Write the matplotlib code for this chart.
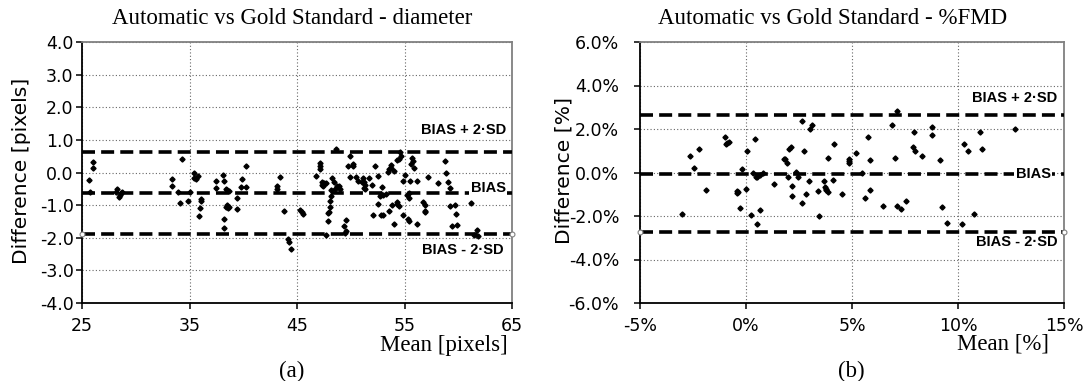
import matplotlib
matplotlib.use("Agg")
import matplotlib.pyplot as plt
import numpy as np
from matplotlib.ticker import FuncFormatter, MultipleLocator

# Bland-Altman data: diameter (pixels)
diam_mean = [26.05, 26.05, 25.65, 25.7,
             28.3, 28.2, 28.5, 28.6, 28.4, 28.7,
             34.3, 33.4, 33.4, 33.9, 34.1, 35.0, 34.9,
             35.4, 35.6, 35.4, 35.8,
             36.1, 36.1, 36.0, 35.9,
             37.5, 37.5, 38.1, 38.2, 38.2,
             38.2, 38.4, 38.5, 38.7, 39.4,
             38.5, 38.7, 38.4, 38.6, 39.4,
             40.3, 39.9, 39.8, 40.3,
             43.4, 43.1, 43.1, 43.8,
             44.2, 44.3, 44.4,
             45.3, 45.5, 45.6,
             47.1, 47.1, 47.1,
             46.8, 47.3, 47.3, 47.5, 47.4, 47.7,
             48.6, 49.7, 50.2, 49.9, 50.2,
             48.3, 48.4, 48.7, 48.5, 48.9, 49.0,
             48.2, 48.2, 48.1,
             48.1, 47.9, 48.0, 47.9,
             49.9, 50.5, 50.7, 51.2, 51.2,
             49.6, 49.4, 49.6, 49.5, 47.7,
             54.6, 54.7, 54.5, 55.7, 55.8, 55.6, 55.9,
             53.7, 53.6, 54.0, 53.5,
             52.3, 52.5,
             51.1, 51.7, 51.0, 51.3, 51.3,
             52.0, 52.9,
             52.8, 53.0, 52.7, 53.3,
             55.0, 54.9, 55.5, 56.2,
             55.2, 55.4, 55.4,
             57.2, 58.1, 59.0, 59.2,
             58.8, 58.9,
             52.5, 53.8, 54.3, 54.5, 54.3, 56.7, 56.9,
             52.1, 52.8, 53.0, 53.6, 54.9, 55.3, 55.4, 54.0, 56.2,
             56.9, 56.9, 59.2, 59.7, 59.8, 61.2,
             59.4, 59.9, 61.7, 61.5, 61.8,
             53.7, 54.3]
diam_diff = [0.32, 0.14, -0.22, -0.60,
             -0.50, -0.60, -0.70, -0.62, -0.75, -0.60,
             0.40, -0.20, -0.40, -0.60, -0.94, -0.60, -0.86,
             -0.03, -0.20, -0.18, -0.12,
             -0.81, -0.87, -1.10, -1.32,
             -0.27, -0.48, -0.09, -1.42, -1.71,
             -0.27, -0.50, -0.55, -0.58, -0.79,
             -1.00, -1.05, -1.05, -1.10, -1.13,
             0.19, -0.19, -0.45, -0.45,
             -0.13, -0.40, -0.50, -1.17,
             -2.05, -2.12, -2.34,
             -1.16, -1.22, -1.26,
             0.30, 0.11, 0.20,
             -0.10, -0.30, -0.38, -0.33, -0.40, -0.33,
             0.73, 0.19, 0.21, 0.52, 0.25,
             -0.17, -0.30, -0.40, -0.50, -0.42, -0.50,
             -0.55, -0.72, -0.86,
             -1.06, -1.25, -1.20, -1.50,
             -0.14, -0.14, -0.25, -0.30, -0.48,
             -1.47, -1.65, -1.78, -1.85, -1.91,
             0.62, 0.50, 0.40, 0.45, 0.35, 0.25, 0.15,
             0.13, 0.10, 0.06, 0.01,
             0.19, -0.11,
             -0.17, -0.17, -0.30, -0.38, -0.50,
             -0.38, -0.45,
             -0.65, -0.70, -0.73, -0.65,
             -0.07, -0.25, -0.25, -0.25,
             -0.69, -0.78, -0.62,
             -0.15, -0.32, -0.30, -0.48,
             0.36, -0.01,
             -0.96, -1.01, -0.96, -1.03, -0.89, -0.91, -1.01,
             -1.30, -1.30, -1.30, -1.17, -1.30, -1.42, -1.50, -1.57, -1.57,
             -1.22, -1.17, -1.03, -1.01, -1.27, -0.93,
             -1.65, -1.60, -1.75, -1.93, -1.95,
             0.24, 0.37]
diam_bias = -0.62
diam_upper = 0.64
diam_lower = -1.88

# Bland-Altman data: %FMD
fmd_mean = [-3.04, -2.63, -2.24, -2.44, -1.88,
            -0.99, -0.94, -0.88, -0.78,
            -0.44, -0.44, -0.40, -0.19, -0.30, 0.00, 0.03, 0.41,
            0.34, 0.45, 0.50, 0.65, 0.78,
            0.22, 0.66, 0.50, 1.31, 1.78,
            1.82, 1.94, 2.03, 2.13, 2.63, 3.00, 3.13, 2.75,
            2.38, 1.97, 2.44, 2.16, 2.19, 2.63, 2.85, 2.97,
            3.43, 3.38, 3.69, 3.72, 3.78, 3.85, 3.75, 4.10,
            3.85, 4.13, 4.54, 4.85, 4.85, 4.87, 5.20, 5.45,
            5.60, 5.85, 5.76, 5.85, 6.48, 6.89, 7.01, 7.10,
            7.10, 7.29, 7.54, 7.92, 7.89, 7.98, 8.32,
            8.79, 8.79, 9.14, 9.26, 9.48,
            10.30, 10.46, 11.03, 11.14, 10.75, 10.17, 12.70]
fmd_diff = [-1.92, 0.78, 1.06, 0.20, -0.79,
            1.64, 1.30, 1.36, 1.40,
            -0.84, -0.96, -0.90, 0.17, -1.61, -0.76, 0.99, 1.52,
            -0.02, -0.20, -0.22, -0.12, -0.02,
            -1.97, -1.73, -2.36, -0.53, 0.62,
            0.62, 0.45, 1.06, 1.18, 2.36, 2.01, 2.19, 0.98,
            0.02, -0.22, -0.22, -0.62, -1.08, -1.40, -0.99, -0.37,
            -2.01, -0.87, -0.37, -0.68, -0.75, -0.90, -0.82, -0.34,
            0.67, 1.33, -0.99, 0.43, 0.64, 0.52, 0.90, 0.00,
            -1.15, -0.80, 1.61, 0.59, -1.53, 2.19, 0.68, 2.82,
            -1.55, -1.69, -1.33, 1.87, 1.15, 0.98, 0.74,
            2.11, 1.73, 0.59, -1.58, -2.33,
            1.33, 0.99, 1.86, 1.10, -1.89, -2.36, 2.01]
fmd_bias = -0.07
fmd_upper = 2.63
fmd_lower = -2.75

W, H = 1084, 381
fig = plt.figure(figsize=(W / 100, H / 100), dpi=100)
fig.patch.set_facecolor("white")

serif = "Liberation Serif"
sans = "DejaVu Sans"
bold_sans = "Liberation Sans"


def px(x, y):
    return x / W, 1 - y / H


def setup_axes(ax, xlim, ylim, xstep, xoff, ystep, xfmt, yfmt, ypad):
    ax.set_xlim(*xlim)
    ax.set_ylim(*ylim)
    ax.xaxis.set_major_locator(MultipleLocator(xstep, offset=xoff))
    ax.yaxis.set_major_locator(MultipleLocator(ystep))
    ax.xaxis.set_major_formatter(FuncFormatter(xfmt))
    ax.yaxis.set_major_formatter(FuncFormatter(yfmt))
    ax.grid(True, color="#666666", linestyle=(0, (1, 2)), linewidth=0.8)
    ax.set_axisbelow(True)
    for side in ("top", "right"):
        ax.spines[side].set_color("#808080")
        ax.spines[side].set_linewidth(1.3)
    for side in ("left", "bottom"):
        ax.spines[side].set_color("black")
        ax.spines[side].set_linewidth(1.3)
    ax.tick_params(axis="both", direction="out", length=4, width=1.1,
                   labelsize=12.5)
    ax.tick_params(axis="x", pad=6)
    ax.tick_params(axis="y", pad=ypad)
    for lab in ax.get_xticklabels() + ax.get_yticklabels():
        lab.set_fontfamily(sans)


def limits(ax, xlim, bias, upper, lower):
    xs = list(xlim)
    dash = dict(color="black", linewidth=2.6, dashes=(3.6, 1.7),
                solid_capstyle="butt", dash_capstyle="butt", zorder=3)
    ax.plot(xs, [upper, upper], **dash)
    ax.plot(xs, [bias, bias], **dash)
    ax.plot(xs, [lower, lower], marker="o", ms=3.5, mfc="white",
            mec="#808080", mew=0.8, clip_on=False, **dash)


# (a) diameter
ax1 = fig.add_axes([82 / W, 1 - 303 / H, 430 / W, 261 / H])
xlim1 = (25, 65)
setup_axes(ax1, xlim1, (-4, 4), 10, 5, 1,
           lambda v, p: f"{v:.0f}", lambda v, p: f"{v:.1f}", 2)
limits(ax1, xlim1, diam_bias, diam_upper, diam_lower)
ax1.plot(diam_mean, diam_diff, linestyle="none", marker="D", ms=2.6,
         color="black", zorder=4)
lbl = dict(fontfamily=bold_sans, fontweight="bold", fontsize=10.5,
           ha="right", va="center", zorder=6)
ax1.text(64.5, diam_upper + 0.65, "BIAS + 2·SD", **lbl)
ax1.text(64.4, diam_bias + 0.16, "BIAS",
         bbox=dict(facecolor="white", edgecolor="none", pad=1.0), **lbl)
ax1.text(64.2, diam_lower - 0.51, "BIAS - 2·SD", **lbl)

# (b) %FMD
ax2 = fig.add_axes([640 / W, 1 - 303 / H, 424 / W, 261 / H])
xlim2 = (-5, 15)
setup_axes(ax2, xlim2, (-6, 6), 5, 0, 2,
           lambda v, p: f"{v:.0f}%", lambda v, p: f"{v:.1f}%", 11)
limits(ax2, xlim2, fmd_bias, fmd_upper, fmd_lower)
ax2.plot(fmd_mean, fmd_diff, linestyle="none", marker="D", ms=2.6,
         color="black", zorder=4)
ax2.text(14.7, fmd_upper + 0.81, "BIAS + 2·SD", **lbl)
ax2.text(14.37, fmd_bias, "BIAS",
         bbox=dict(facecolor="white", edgecolor="none", pad=1.0), **lbl)
ax2.text(14.7, fmd_lower - 0.46, "BIAS - 2·SD", **lbl)

# titles, axis labels and panel letters
fig.text(*px(292, 19), "Automatic vs Gold Standard - diameter",
         fontfamily=serif, fontsize=16.5, ha="center", va="center")
fig.text(*px(833, 19), "Automatic vs Gold Standard - %FMD",
         fontfamily=serif, fontsize=16.5, ha="center", va="center")
fig.text(*px(22, 171), "Difference [pixels]", fontfamily=sans,
         fontsize=14.6, rotation=90, ha="center", va="center")
fig.text(*px(564, 171), "Difference [%]", fontfamily=sans,
         fontsize=14.6, rotation=90, ha="center", va="center")
fig.text(*px(508, 345), "Mean [pixels]", fontfamily=serif,
         fontsize=16.5, ha="right", va="center")
fig.text(*px(1049, 344), "Mean [%]", fontfamily=serif,
         fontsize=16.5, ha="right", va="center")
fig.text(*px(292, 371), "(a)", fontfamily=serif, fontsize=16.5,
         ha="center", va="center")
fig.text(*px(851, 371), "(b)", fontfamily=serif, fontsize=16.5,
         ha="center", va="center")

fig.savefig("out.png", dpi=100, facecolor="white")
